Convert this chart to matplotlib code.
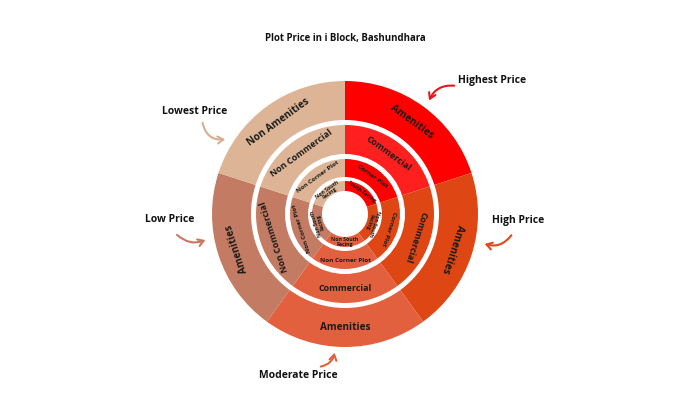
import numpy as np
import matplotlib.pyplot as plt

plt.rcParams['font.family'] = ['Open Sans', 'DejaVu Sans']

# price levels, one slice per level in every ring
levels = ['Highest Price', 'High Price', 'Moderate Price', 'Low Price', 'Lowest Price']
shares = [1, 1, 1, 1, 1]

# ring labels, outer to inner
amenities = ['Amenities', 'Amenities', 'Amenities', 'Amenities', 'Non Amenities']
commercial = ['Commercial', 'Commercial', 'Commercial', 'Non Commercial', 'Non Commercial']
corner = ['Corner Plot', 'Corner Plot', 'Non Corner Plot', 'Non Corner Plot', 'Non Corner Plot']
facing = ['South Facing', 'Non South\nFacing', 'Non South\nFacing', 'Non South\nFacing', 'Non South\nFacing']

colors = ['#FF0000', '#DE4614', '#E2603E', '#C47B63', '#DDB596']
ring2_colors = ['#FF1F1F', '#DE4614', '#E2603E', '#C47B63', '#DDB596']
arrow_colors = ['#E8171B', '#E04A1A', '#E3603C', '#C9775E', '#D9AE90']

fig = plt.figure(figsize=(6.9, 4.0), dpi=100)
ax = fig.add_axes([0, 0, 1, 1])

cx, cy = 345, 186
# (labels, outer radius, inner radius, font size, colours)
rings = [
    (amenities, 133, 94, 7.2, colors),
    (commercial, 89, 60, 6.4, ring2_colors),
    (corner, 55, 37, 4.6, colors),
    (facing, 33, 23, 3.7, colors),
]

for labels, r_out, r_in, fs, cols in rings:
    wedges, _ = ax.pie(shares, radius=r_out, center=(cx, cy), startangle=90,
                       counterclock=False, colors=cols,
                       wedgeprops=dict(width=r_out - r_in, linewidth=0))
    r_mid = (r_out + r_in) / 2
    for w, lab in zip(wedges, labels):
        mid = (w.theta1 + w.theta2) / 2
        rot = (mid - 90 + 180) % 360 - 180
        if abs(rot) > 135:
            rot = (rot + 360) % 360 - 180
        x = cx + r_mid * np.cos(np.radians(mid))
        y = cy + r_mid * np.sin(np.radians(mid))
        ax.text(x, y, lab, ha='center', va='center', rotation=rot,
                rotation_mode='anchor', fontsize=fs, fontweight='bold',
                color='#1a1a1a', linespacing=1.0)

# price labels with curved arrows
label_pos = [(492, 319), (518, 179), (298, 24), (170, 181), (195, 289)]
arrow_from = [(457, 314), (513, 167), (318, 33), (175, 167), (202, 280)]
arrow_to = [(428, 297), (482, 157), (335, 50), (208, 161), (228, 261)]
arrow_rad = [0.4, -0.4, 0.4, 0.35, 0.5]

for i, lev in enumerate(levels):
    ax.text(*label_pos[i], lev, ha='center', va='center', fontsize=7.5,
            fontweight='bold', color='#111111')
    ax.annotate('', xy=arrow_to[i], xytext=arrow_from[i],
                arrowprops=dict(arrowstyle='->,head_length=0.4,head_width=0.25',
                                color=arrow_colors[i], lw=1.5,
                                connectionstyle=f'arc3,rad={arrow_rad[i]}'))

ax.text(345, 362, 'Plot Price in i Block, Bashundhara', ha='center', va='center',
        fontsize=6.9, fontweight='bold', color='#111111')

ax.set_xlim(0, 690)
ax.set_ylim(0, 400)
ax.set_aspect('equal')
ax.axis('off')

fig.savefig('out.png', dpi=100, facecolor='white')
